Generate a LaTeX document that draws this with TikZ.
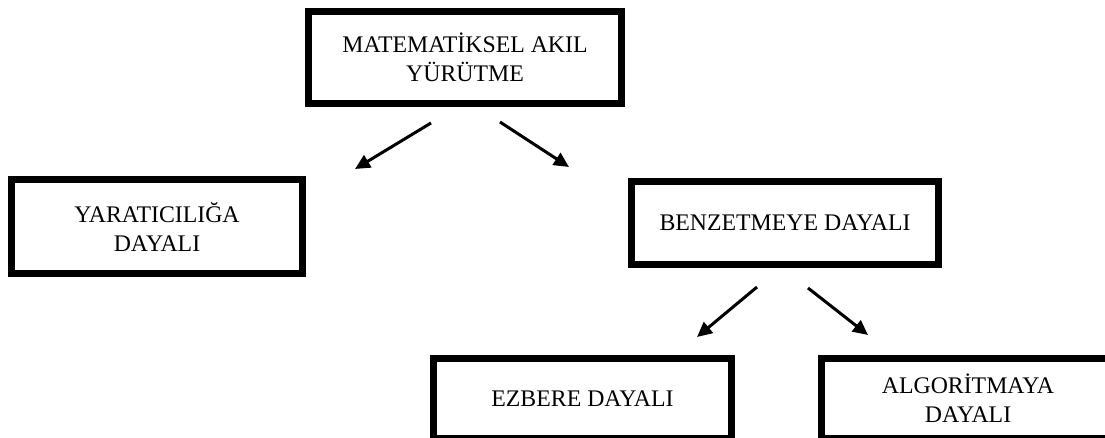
\documentclass[tikz,border=0pt]{standalone}
\usepackage{fontspec}
\setmainfont{Liberation Serif}
\usetikzlibrary{arrows.meta}

\begin{document}
\begin{tikzpicture}[x=1pt,y=-1pt,
  kutu/.style={draw=black, line width=7pt, align=center, inner sep=0pt,
    font=\fontsize{23.8}{29}\selectfont},
  ok/.style={-{Triangle[length=15pt,width=14pt]}, line width=3pt}]
  \useasboundingbox (0,0) rectangle (1105,438);
  % kutular
  \node[kutu, minimum width=313pt, minimum height=92pt] (akil) at (465,57.5) {MATEMATİKSEL AKIL\\YÜRÜTME};
  \node[kutu, minimum width=291pt, minimum height=94pt] (yarat) at (157,226.5) {YARATICILIĞA\\DAYALI};
  \node[kutu, minimum width=307pt, minimum height=83pt] (benz) at (785,223) {BENZETMEYE DAYALI};
  \node[kutu, minimum width=298pt, minimum height=80pt] (ezber) at (582.5,398.5) {EZBERE DAYALI};
  \node[kutu, minimum width=293pt, minimum height=80pt] (algo) at (968,398.5) {ALGORİTMAYA\\DAYALI};
  % oklar
  \coordinate (a1) at (431,123); \coordinate (b1) at (355,169);
  \coordinate (a2) at (500,122); \coordinate (b2) at (569,167);
  \coordinate (a3) at (757,287); \coordinate (b3) at (697,337);
  \coordinate (a4) at (808,288); \coordinate (b4) at (868,335);
  \draw[ok] (a1) -- (b1);
  \draw[ok] (a2) -- (b2);
  \draw[ok] (a3) -- (b3);
  \draw[ok] (a4) -- (b4);
\end{tikzpicture}
\end{document}
